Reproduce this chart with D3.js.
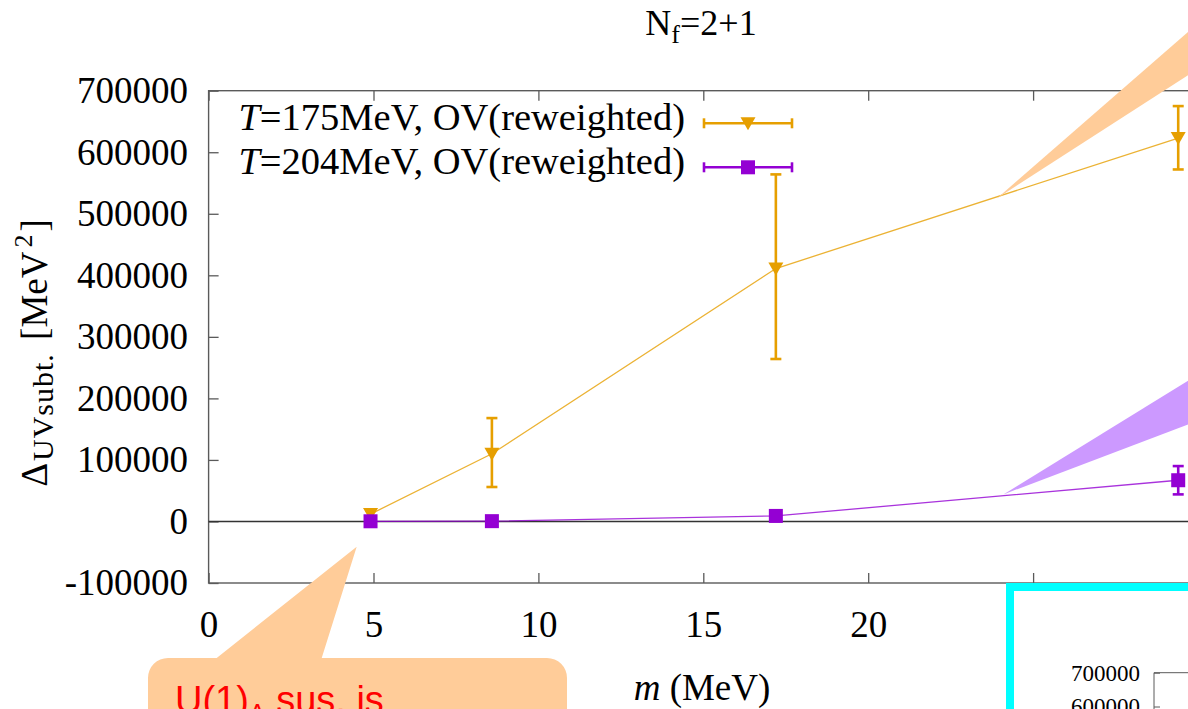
<!DOCTYPE html>
<html>
<head>
<meta charset="utf-8">
<script src="https://cdn.jsdelivr.net/npm/d3@7"></script>
<style>
  html, body { margin: 0; padding: 0; background: #fff; overflow: hidden; }
  svg { display: block; }
  text { font-family: "Liberation Serif", "Times New Roman", serif; fill: #000; }
  text.note { font-family: "Liberation Sans", Arial, sans-serif; fill: #FF0000; }
</style>
</head>
<body>
<svg id="chart" width="1188" height="709"></svg>
<script>
// Quark mass (MeV) for each ensemble
const masses = [4.91, 8.59, 17.2, 29.4];

// T = 175 MeV, overlap (reweighted)
const delta175 = [12000, 110000, 411000, 623000];
const lo175    = [6500, 56000, 264000, 572000];
const hi175    = [18000, 168000, 564000, 675000];

// T = 204 MeV, overlap (reweighted)
const delta204 = [300, 500, 9000, 67000];
const lo204    = [-1500, -1500, 6500, 44000];
const hi204    = [2000, 2500, 11500, 90000];

const seriesNames = ["175", "204"];
const xTicks = [0, 5, 10, 15, 20, 25];
const yTicks = [-100000, 0, 100000, 200000, 300000, 400000, 500000, 600000, 700000];
const insetTicks = [500000, 600000, 700000];

const ORANGE = "#E69F00", PURPLE = "#9400D3";
const FRAME = "#5a5a5a";

// plain hyphen for negative tick labels
const fmt = d => String(d);

const svg = d3.select("#chart");
svg.append("rect").attr("width", 1188).attr("height", 709).attr("fill", "#fff");

const x = d3.scaleLinear().domain([0, 30]).range([208.6, 1198]);
const y = d3.scaleLinear().domain([-100000, 700000]).range([583, 90.7]);

// ---- axes and frame ----
function styleAxis(g) {
  g.select(".domain").remove();
  g.selectAll(".tick line").attr("stroke", FRAME).attr("stroke-width", 1.3);
  g.selectAll(".tick text").attr("font-family", null).attr("font-size", 37).attr("fill", "#000");
}
svg.append("g").attr("transform", `translate(0,${y.range()[0]})`)
  .call(d3.axisBottom(x).tickValues(xTicks).tickSize(-10).tickPadding(27.5).tickFormat(fmt))
  .call(styleAxis);
svg.append("g").attr("transform", `translate(0,${y.range()[1]})`)
  .call(d3.axisTop(x).tickValues(xTicks).tickSize(-10).tickFormat(""))
  .call(styleAxis);
svg.append("g").attr("transform", `translate(${x.range()[0]},0)`)
  .call(d3.axisLeft(y).tickValues(yTicks).tickSize(-10).tickPadding(20.5).tickFormat(fmt))
  .call(styleAxis);
svg.append("g").attr("transform", `translate(${x.range()[1]},0)`)
  .call(d3.axisRight(y).tickValues(yTicks).tickSize(-10).tickFormat(""))
  .call(styleAxis);

svg.append("rect")
  .attr("x", x.range()[0]).attr("y", y.range()[1])
  .attr("width", x.range()[1] - x.range()[0]).attr("height", y.range()[0] - y.range()[1])
  .attr("fill", "none").attr("stroke", FRAME).attr("stroke-width", 1.4);

// zero line
svg.append("line")
  .attr("x1", x.range()[0]).attr("x2", x.range()[1])
  .attr("y1", y(0)).attr("y2", y(0))
  .attr("stroke", "#333").attr("stroke-width", 1.4);

// ---- data ----
const series = [
  { name: seriesNames[0], color: ORANGE, vals: delta175, lo: lo175, hi: hi175, marker: "tri" },
  { name: seriesNames[1], color: PURPLE, vals: delta204, lo: lo204, hi: hi204, marker: "sq" }
];

const triPath = "M-7.5,-6 L7.5,-6 L0,7 Z";
function drawMarker(g, type, color) {
  if (type === "tri") g.append("path").attr("d", triPath).attr("fill", color);
  else g.append("rect").attr("x", -7).attr("y", -7).attr("width", 14).attr("height", 14).attr("fill", color);
}

const line = d3.line().x(d => x(d[0])).y(d => y(d[1]));
series.forEach(s => {
  const pts = masses.map((m, i) => [m, s.vals[i], s.lo[i], s.hi[i]]);
  const g = svg.append("g");
  g.append("path").attr("d", line(pts)).attr("fill", "none")
    .attr("stroke", s.color).attr("stroke-width", 1.3).attr("opacity", 0.8);
  pts.forEach(p => {
    const eb = g.append("g").attr("stroke", s.color).attr("stroke-width", 2.6);
    eb.append("line").attr("x1", x(p[0])).attr("x2", x(p[0])).attr("y1", y(p[2])).attr("y2", y(p[3]));
    eb.append("line").attr("x1", x(p[0]) - 5.5).attr("x2", x(p[0]) + 5.5).attr("y1", y(p[2])).attr("y2", y(p[2]));
    eb.append("line").attr("x1", x(p[0]) - 5.5).attr("x2", x(p[0]) + 5.5).attr("y1", y(p[3])).attr("y2", y(p[3]));
    const mk = g.append("g").attr("transform", `translate(${x(p[0])},${y(p[1])})`);
    drawMarker(mk, s.marker, s.color);
  });
});

// ---- legend ----
const legend = svg.append("g");
series.forEach((s, i) => {
  const ly = 123.3 + i * 44;
  const t = legend.append("text").attr("x", 685).attr("y", ly + 7).attr("text-anchor", "end").attr("font-size", 38.5);
  t.append("tspan").attr("font-style", "italic").text("T");
  t.append("tspan").text(`=${s.name}MeV, OV(reweighted)`);
  const g = legend.append("g").attr("stroke", s.color).attr("stroke-width", 2.6);
  g.append("line").attr("x1", 704).attr("x2", 792).attr("y1", ly).attr("y2", ly);
  g.append("line").attr("x1", 704).attr("x2", 704).attr("y1", ly - 5).attr("y2", ly + 5);
  g.append("line").attr("x1", 792).attr("x2", 792).attr("y1", ly - 5).attr("y2", ly + 5);
  drawMarker(legend.append("g").attr("transform", `translate(748,${ly})`), s.marker, s.color);
});

// ---- titles ----
const title = svg.append("text").attr("x", 701).attr("y", 35).attr("text-anchor", "middle").attr("font-size", 36);
title.append("tspan").text("N");
title.append("tspan").attr("font-size", 26).attr("dy", 8).text("f");
title.append("tspan").attr("dy", -8).text("=2+1");

const xl = svg.append("text").attr("x", 702).attr("y", 700).attr("text-anchor", "middle").attr("font-size", 37);
xl.append("tspan").attr("font-style", "italic").text("m");
xl.append("tspan").text(" (MeV)");

const yl = svg.append("text").attr("transform", "translate(47,353) rotate(-90)")
  .attr("text-anchor", "middle").attr("font-size", 37);
yl.append("tspan").text("Δ");
yl.append("tspan").attr("font-size", 30).attr("dx", 2).attr("dy", 6).attr("letter-spacing", 1).text("UVsubt.");
yl.append("tspan").attr("dx", 4).attr("dy", -6).text(" [MeV");
yl.append("tspan").attr("font-size", 26).attr("dx", 4).attr("dy", -15).text("2");
yl.append("tspan").attr("dx", 3).attr("dy", 15).text("]");

// ---- callout pointers (anchored in data coordinates) ----
const orangeTip = [23.9, 525000];
const purpleTip = [24.1, 44000];
const bubbleTip = [4.49, -41000];

function wedge(tip, far1, far2, fill) {
  const tx = x(tip[0]), ty = y(tip[1]);
  svg.append("path")
    .attr("d", `M${tx},${ty} L${far1[0]},${far1[1]} L${far2[0]},${far2[1]} Z`)
    .attr("fill", fill);
}
wedge(orangeTip, [1200, 21.5], [1200, 67.4], "#FFCC99");
wedge(purpleTip, [1200, 373.3], [1200, 420], "#CC99FF");

// speech bubble below the axis
{
  const tx = x(bubbleTip[0]), ty = y(bubbleTip[1]);
  const bx = 148, by = 658, bw = 419, bh = 120, r = 20;
  const path = d3.path();
  path.moveTo(bx + r, by);
  path.lineTo(216.7, by);
  path.lineTo(tx, ty);
  path.lineTo(321.7, by);
  path.lineTo(bx + bw - r, by);
  path.arcTo(bx + bw, by, bx + bw, by + r, r);
  path.lineTo(bx + bw, by + bh);
  path.lineTo(bx, by + bh);
  path.lineTo(bx, by + r);
  path.arcTo(bx, by, bx + r, by, r);
  path.closePath();
  svg.append("path").attr("d", path.toString()).attr("fill", "#FFCC99");
  const bt = svg.append("text").attr("class", "note").attr("x", 175).attr("y", 713).attr("font-size", 38);
  bt.append("tspan").text("U(1)");
  bt.append("tspan").attr("font-size", 25).attr("dy", 9).text("A");
  bt.append("tspan").attr("dy", -9).text(" sus. is");
}

// ---- inset panel ----
{
  svg.append("rect").attr("x", 1010).attr("y", 587).attr("width", 300).attr("height", 200)
    .attr("fill", "#fff").attr("stroke", "#00FFFF").attr("stroke-width", 8);
  const iy = d3.scaleLinear().domain([600000, 700000]).range([706.5, 672.7]);
  const ig = svg.append("g").attr("transform", "translate(1154,0)");
  ig.call(d3.axisLeft(iy).tickValues(insetTicks).tickSize(-6).tickPadding(14).tickFormat(fmt));
  ig.select(".domain").remove();
  ig.selectAll(".tick line").attr("stroke", FRAME);
  ig.selectAll(".tick text").attr("font-family", null).attr("font-size", 23).attr("fill", "#000");
  svg.append("path").attr("d", `M1154,720 L1154,672.7 L1200,672.7`)
    .attr("fill", "none").attr("stroke", FRAME).attr("stroke-width", 1);
}
</script>
</body>
</html>
